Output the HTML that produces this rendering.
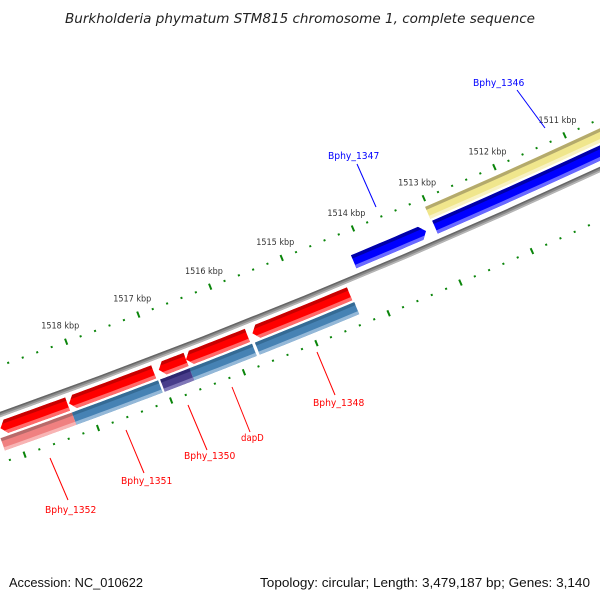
<!DOCTYPE html>
<html><head><meta charset="utf-8"><style>
html,body{margin:0;padding:0;background:#fff;}
svg{display:block;}
</style></head><body>
<svg id="chart" width="600" height="600" viewBox="0 0 600 600" xmlns="http://www.w3.org/2000/svg">
<rect width="600" height="600" fill="#fff"/>
<text x="300" y="23" text-anchor="middle" font-family="DejaVu Sans, sans-serif" font-style="italic" font-size="13" fill="#222" textLength="470" lengthAdjust="spacingAndGlyphs">Burkholderia phymatum STM815 chromosome 1, complete sequence</text>
<g id="plot"></g>
<text x="9" y="587" font-family="Liberation Sans, sans-serif" font-size="13" fill="#111" textLength="134" lengthAdjust="spacingAndGlyphs">Accession: NC_010622</text>
<text x="590" y="587" text-anchor="end" font-family="Liberation Sans, sans-serif" font-size="13" fill="#111" textLength="330" lengthAdjust="spacingAndGlyphs">Topology: circular; Length: 3,479,187 bp; Genes: 3,140</text>
</svg>
<script>
// ---- data ----
const tickStart = 1510000;
const tickEnd = 1520000;
const tickStep = 200;
const tickLabelValues = [1511, 1512, 1513, 1514, 1515, 1516, 1517, 1518];
const geneNames = ["Bphy_1346", "Bphy_1347", "Bphy_1348", "dapD", "Bphy_1350", "Bphy_1351", "Bphy_1352"];
const geneStarts = [1510000, 1513143, 1514366, 1515785, 1516633, 1517079, 1518261];
const geneEnds = [1513017, 1514158, 1515715, 1516633, 1517008, 1518240, 1519178];
const geneStrands = [1, 1, -1, -1, -1, -1, -1];
const cogNames = ["cog-1346", "cog-1348", "cog-dapD", "cog-1350", "cog-1351", "cog-1352"];
const cogStarts = [1510000, 1514352, 1515770, 1516633, 1517065, 1518247];
const cogEnds = [1513030, 1515729, 1516633, 1517036, 1518247, 1519220];
const cogKinds = ["yellow", "steel", "steel", "purple", "steel", "pink"];
// annotation layout
const labelX = [473, 328, 313, 241, 184, 121, 45];
const labelY = [86, 159, 406, 441, 459, 484, 513];
const lineX1 = [517, 357, 317, 232, 188, 126, 50];
const lineY1 = [90, 164, 352, 387, 405, 430, 458];
const lineX2 = [545, 376, 335, 250, 207, 144, 68];
const lineY2 = [128, 207, 395, 432, 450, 473, 500];

// ---- geometry ----
const NS = "http://www.w3.org/2000/svg";
const R = 7000, ux = 0.378, uy = 0.926;
const Ax = 302.8, Ay = 300.4, bpA = 1514955;
const Cx = Ax - R * ux, Cy = Ay - R * uy;
const thA = Math.atan2(uy, ux);
const kk = 0.0776 / R;
function pt(bp, d) { const t = thA + (bp - bpA) * kk; const r = R + d; return [Cx + r * Math.cos(t), Cy + r * Math.sin(t)]; }
const plot = document.getElementById('plot');
function mk(tag, attrs, parent) { const e = document.createElementNS(NS, tag); for (const a in attrs) e.setAttribute(a, attrs[a]); (parent || plot).appendChild(e); return e; }
function arcPts(b1, b2, d) { const out = []; const n = 12; for (let i = 0; i <= n; i++) out.push(pt(b1 + (b2 - b1) * i / n, d)); return out; }
function bandD(b1, b2, d1, d2) { const p = arcPts(b1, b2, d1).concat(arcPts(b2, b1, d2)); return 'M' + p.map(q => q[0].toFixed(2) + ',' + q[1].toFixed(2)).join('L') + 'Z'; }
function arrowD(b1, b2, d1, d2, strand) {
  const h = 75; const dm = (d1 + d2) / 2; let p;
  if (strand < 0) { // tip at b2 (left)
    p = arcPts(b1, b2 - h, d1).concat([pt(b2, dm)], arcPts(b2 - h, b1, d2));
  } else { // tip at b1 (right)
    p = [pt(b1, dm)].concat(arcPts(b1 + h, b2, d1), arcPts(b2, b1 + h, d2));
  }
  return 'M' + p.map(q => q[0].toFixed(2) + ',' + q[1].toFixed(2)).join('L') + 'Z';
}
const pal = {
  red: ['#c80000', '#ff0000', '#ff6a6a'],
  blue: ['#0000a8', '#0000ff', '#6a6aff'],
  steel: ['#356b95', '#4682b4', '#94b8d8'],
  pink: ['#b86a6a', '#f08080', '#f8b4b4'],
  purple: ['#2e2770', '#483d8b', '#8078b8'],
  yellow: ['#b4aa6c', '#f0e68c', '#f8f2c4']
};
function shaded(g, shapeD, b1, b2, d1, d2, cols, id) {
  const cp = mk('clipPath', { id: id }, g);
  mk('path', { d: shapeD }, cp);
  const w = d2 - d1;
  const bb1 = b1 - 200, bb2 = b2 + 200;
  mk('path', { d: shapeD, fill: cols[1] }, g);
  mk('path', { d: bandD(bb1, bb2, d1 - 1, d1 + w * 0.25), fill: cols[0], 'clip-path': 'url(#' + id + ')' }, g);
  mk('path', { d: bandD(bb1, bb2, d1 + w * 0.75, d2 + 1), fill: cols[2], 'clip-path': 'url(#' + id + ')' }, g);
}

// backbone
const bb = mk('g', {});


mk('path', { d: bandD(1505000, 1522000, -2.5, 2.5), fill: '#8a8a8a' }, bb);
mk('path', { d: bandD(1505000, 1522000, -2.5, -1), fill: '#666' }, bb);
mk('path', { d: bandD(1505000, 1522000, 0.8, 2.5), fill: '#b5b5b5' }, bb);

// ticks
const tk = mk('g', {});


for (let b = tickStart; b <= tickEnd; b += tickStep) {
  const major = (b % 1000 === 0);
  [-46, 46].forEach(dc => {
    const hl = major ? 3.2 : 1;
    const p1 = pt(b, dc - hl), p2 = pt(b, dc + hl);
    const l = mk('line', { x1: p1[0], y1: p1[1], x2: p2[0], y2: p2[1], stroke: '#0a850a', 'stroke-width': 2 }, tk);
    
    
  });
}
tickLabelValues.forEach(v => {
  const p = pt(v * 1000, -63);
  const t = mk('text', { x: p[0], y: p[1] + 3, 'text-anchor': 'middle', 'font-family': 'DejaVu Sans, sans-serif', 'font-size': 8.5, fill: '#333', textLength: 38, lengthAdjust: 'spacingAndGlyphs' }, tk);
  t.textContent = v + ' kbp';
  
  
});

// COG / feature ring (outer bands)
const cg = mk('g', {});


cogNames.forEach((n, i) => {
  const yellow = cogKinds[i] === 'yellow';
  const d1 = yellow ? -37.5 : 22.5, d2 = yellow ? -24.5 : 35.5;
  const g = mk('g', {}, cg);
  
  
  shaded(g, bandD(cogStarts[i], cogEnds[i], d1, d2), cogStarts[i], cogEnds[i], d1, d2, pal[cogKinds[i]], 'cc' + i);
});

// genes
const gg = mk('g', {});


geneNames.forEach((n, i) => {
  const fw = geneStrands[i] > 0;
  const d1 = fw ? -22 : 6, d2 = fw ? -8 : 20;
  const g = mk('g', {}, gg);
  
  
  shaded(g, arrowD(geneStarts[i], geneEnds[i], d1, d2, geneStrands[i]), geneStarts[i], geneEnds[i], d1, d2, fw ? pal.blue : pal.red, 'gc' + i);
  const col = fw ? '#0000ff' : '#ff0000';
  const ln = mk('line', { x1: lineX1[i], y1: lineY1[i], x2: lineX2[i], y2: lineY2[i], stroke: col, 'stroke-width': 1 }, g);
  
  
  const t = mk('text', { x: labelX[i], y: labelY[i], 'font-family': 'DejaVu Sans, sans-serif', 'font-size': 10, fill: col, textLength: n.length * 5.7, lengthAdjust: 'spacingAndGlyphs' }, g);
  t.textContent = n;
  
  
});
</script>
</body></html>
